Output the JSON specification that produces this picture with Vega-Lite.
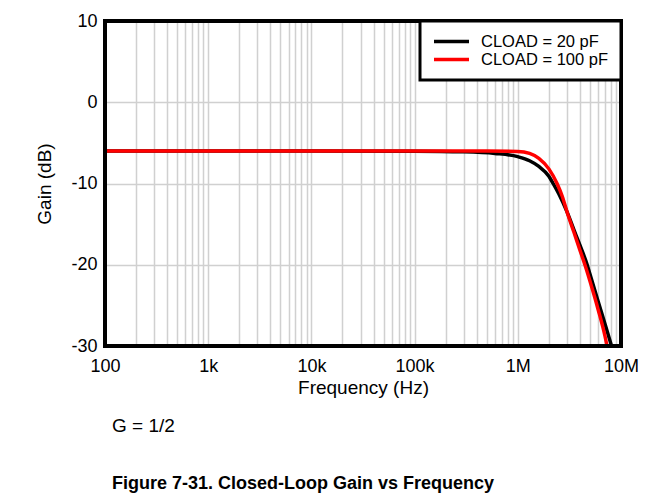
{
  "$schema": "https://vega.github.io/schema/vega-lite/v6.json",
  "width": 516,
  "height": 325,
  "autosize": "none",
  "padding": {"left": 105, "top": 21, "right": 41, "bottom": 147},
  "background": "white",
  "config": {
    "font": "Liberation Sans",
    "view": {"stroke": null},
    "axis": {"labelColor": "black", "titleColor": "black", "labelFont": "Liberation Sans", "titleFont": "Liberation Sans", "titleFontWeight": "normal"},
    "legend": {"strokeWidth": 3}
  },
  "title": {
    "text": "G = 1/2",
    "subtitle": "Figure 7-31. Closed-Loop Gain vs Frequency",
    "orient": "bottom",
    "anchor": "start",
    "frame": "group",
    "fontSize": 19,
    "fontWeight": "normal",
    "subtitleFontSize": 18,
    "subtitleFontWeight": "bold",
    "subtitlePadding": 39,
    "offset": 20,
    "dx": 7,
    "color": "black",
    "subtitleColor": "black",
    "font": "Liberation Sans",
    "subtitleFont": "Liberation Sans"
  },
  "data": {
    "values": [
      {"f": 100, "gain": -6.0, "series": "CLOAD = 20 pF"},
      {"f": 10000, "gain": -6.0, "series": "CLOAD = 20 pF"},
      {"f": 100000, "gain": -6.02, "series": "CLOAD = 20 pF"},
      {"f": 300000, "gain": -6.1, "series": "CLOAD = 20 pF"},
      {"f": 600000, "gain": -6.3, "series": "CLOAD = 20 pF"},
      {"f": 1000000, "gain": -6.7, "series": "CLOAD = 20 pF"},
      {"f": 1300000, "gain": -7.2, "series": "CLOAD = 20 pF"},
      {"f": 1600000, "gain": -7.9, "series": "CLOAD = 20 pF"},
      {"f": 2000000, "gain": -9.1, "series": "CLOAD = 20 pF"},
      {"f": 2200000, "gain": -10.0, "series": "CLOAD = 20 pF"},
      {"f": 2500000, "gain": -11.3, "series": "CLOAD = 20 pF"},
      {"f": 3000000, "gain": -13.5, "series": "CLOAD = 20 pF"},
      {"f": 3500000, "gain": -15.7, "series": "CLOAD = 20 pF"},
      {"f": 4000000, "gain": -17.6, "series": "CLOAD = 20 pF"},
      {"f": 4700000, "gain": -20.0, "series": "CLOAD = 20 pF"},
      {"f": 5000000, "gain": -21.15, "series": "CLOAD = 20 pF"},
      {"f": 6000000, "gain": -24.5, "series": "CLOAD = 20 pF"},
      {"f": 7000000, "gain": -27.3, "series": "CLOAD = 20 pF"},
      {"f": 8100000, "gain": -30.0, "series": "CLOAD = 20 pF"},
      {"f": 100, "gain": -6.0, "series": "CLOAD = 100 pF"},
      {"f": 100000, "gain": -6.0, "series": "CLOAD = 100 pF"},
      {"f": 500000, "gain": -6.0, "series": "CLOAD = 100 pF"},
      {"f": 1000000, "gain": -6.05, "series": "CLOAD = 100 pF"},
      {"f": 1300000, "gain": -6.3, "series": "CLOAD = 100 pF"},
      {"f": 1600000, "gain": -6.9, "series": "CLOAD = 100 pF"},
      {"f": 2000000, "gain": -8.2, "series": "CLOAD = 100 pF"},
      {"f": 2400000, "gain": -10.0, "series": "CLOAD = 100 pF"},
      {"f": 2700000, "gain": -11.6, "series": "CLOAD = 100 pF"},
      {"f": 3000000, "gain": -13.5, "series": "CLOAD = 100 pF"},
      {"f": 3500000, "gain": -16.0, "series": "CLOAD = 100 pF"},
      {"f": 4000000, "gain": -18.2, "series": "CLOAD = 100 pF"},
      {"f": 4470000, "gain": -20.0, "series": "CLOAD = 100 pF"},
      {"f": 5000000, "gain": -22.0, "series": "CLOAD = 100 pF"},
      {"f": 6000000, "gain": -25.5, "series": "CLOAD = 100 pF"},
      {"f": 7000000, "gain": -28.8, "series": "CLOAD = 100 pF"},
      {"f": 7400000, "gain": -30.3, "series": "CLOAD = 100 pF"}
    ]
  },
  "encoding": {
    "x": {
      "field": "f",
      "type": "quantitative",
      "scale": {"type": "log", "domain": [100, 10000000], "nice": false},
      "axis": {
        "title": "Frequency (Hz)",
        "values": [100, 200, 300, 400, 500, 600, 700, 800, 900, 1000, 2000, 3000, 4000, 5000, 6000, 7000, 8000, 9000, 10000, 20000, 30000, 40000, 50000, 60000, 70000, 80000, 90000, 100000, 200000, 300000, 400000, 500000, 600000, 700000, 800000, 900000, 1000000, 2000000, 3000000, 4000000, 5000000, 6000000, 7000000, 8000000, 9000000, 10000000],
        "labelExpr": "datum.value == 100 ? '100' : datum.value == 1000 ? '1k' : datum.value == 10000 ? '10k' : datum.value == 100000 ? '100k' : datum.value == 1000000 ? '1M' : datum.value == 10000000 ? '10M' : ''",
        "labelOverlap": false,
        "labelFlush": false,
        "labelFontSize": 18,
        "labelPadding": 11,
        "titleFontSize": 19,
        "titlePadding": 3,
        "ticks": false,
        "domain": false,
        "grid": true,
        "gridColor": "#d0d0d0",
        "gridWidth": 1.5
      }
    },
    "y": {
      "field": "gain",
      "type": "quantitative",
      "scale": {"domain": [-30, 10], "nice": false},
      "axis": {
        "title": "Gain (dB)",
        "values": [-30, -20, -10, 0, 10],
        "labelExpr": "'' + datum.value",
        "labelFontSize": 18,
        "labelPadding": 8,
        "labelFlush": false,
        "titleFontSize": 19,
        "titlePadding": 16,
        "ticks": false,
        "domain": false,
        "grid": true,
        "gridColor": "#d0d0d0",
        "gridWidth": 1.5
      }
    }
  },
  "layer": [
    {
      "transform": [{"filter": "datum.series == 'CLOAD = 20 pF'"}],
      "mark": {"type": "line", "interpolate": "monotone", "strokeWidth": 3.5, "clip": true},
      "encoding": {
        "color": {
          "field": "series",
          "type": "nominal",
          "scale": {"domain": ["CLOAD = 20 pF", "CLOAD = 100 pF"], "range": ["#000000", "#ff0000"]},
          "legend": {
            "title": null,
            "orient": "top-right",
            "offset": 0,
            "strokeColor": "black",
            "fillColor": "white",
            "padding": 12,
            "symbolType": "stroke",
            "symbolSize": 1225,
            "symbolStrokeWidth": 3.5,
            "clipHeight": 17,
            "labelFontSize": 16.5,
            "labelColor": "black",
            "labelFont": "Liberation Sans",
            "labelOffset": 10,
            "rowPadding": 1
          }
        }
      }
    },
    {
      "transform": [{"filter": "datum.series == 'CLOAD = 100 pF'"}],
      "mark": {"type": "line", "interpolate": "monotone", "strokeWidth": 3.5, "clip": true},
      "encoding": {
        "color": {"field": "series", "type": "nominal"}
      }
    },
    {
      "mark": {"type": "rect", "fill": null, "fillOpacity": 0, "stroke": "black", "strokeWidth": 3},
      "encoding": {
        "x": {"datum": 100},
        "x2": {"datum": 10000000},
        "y": {"datum": 10},
        "y2": {"datum": -30}
      }
    }
  ]
}
